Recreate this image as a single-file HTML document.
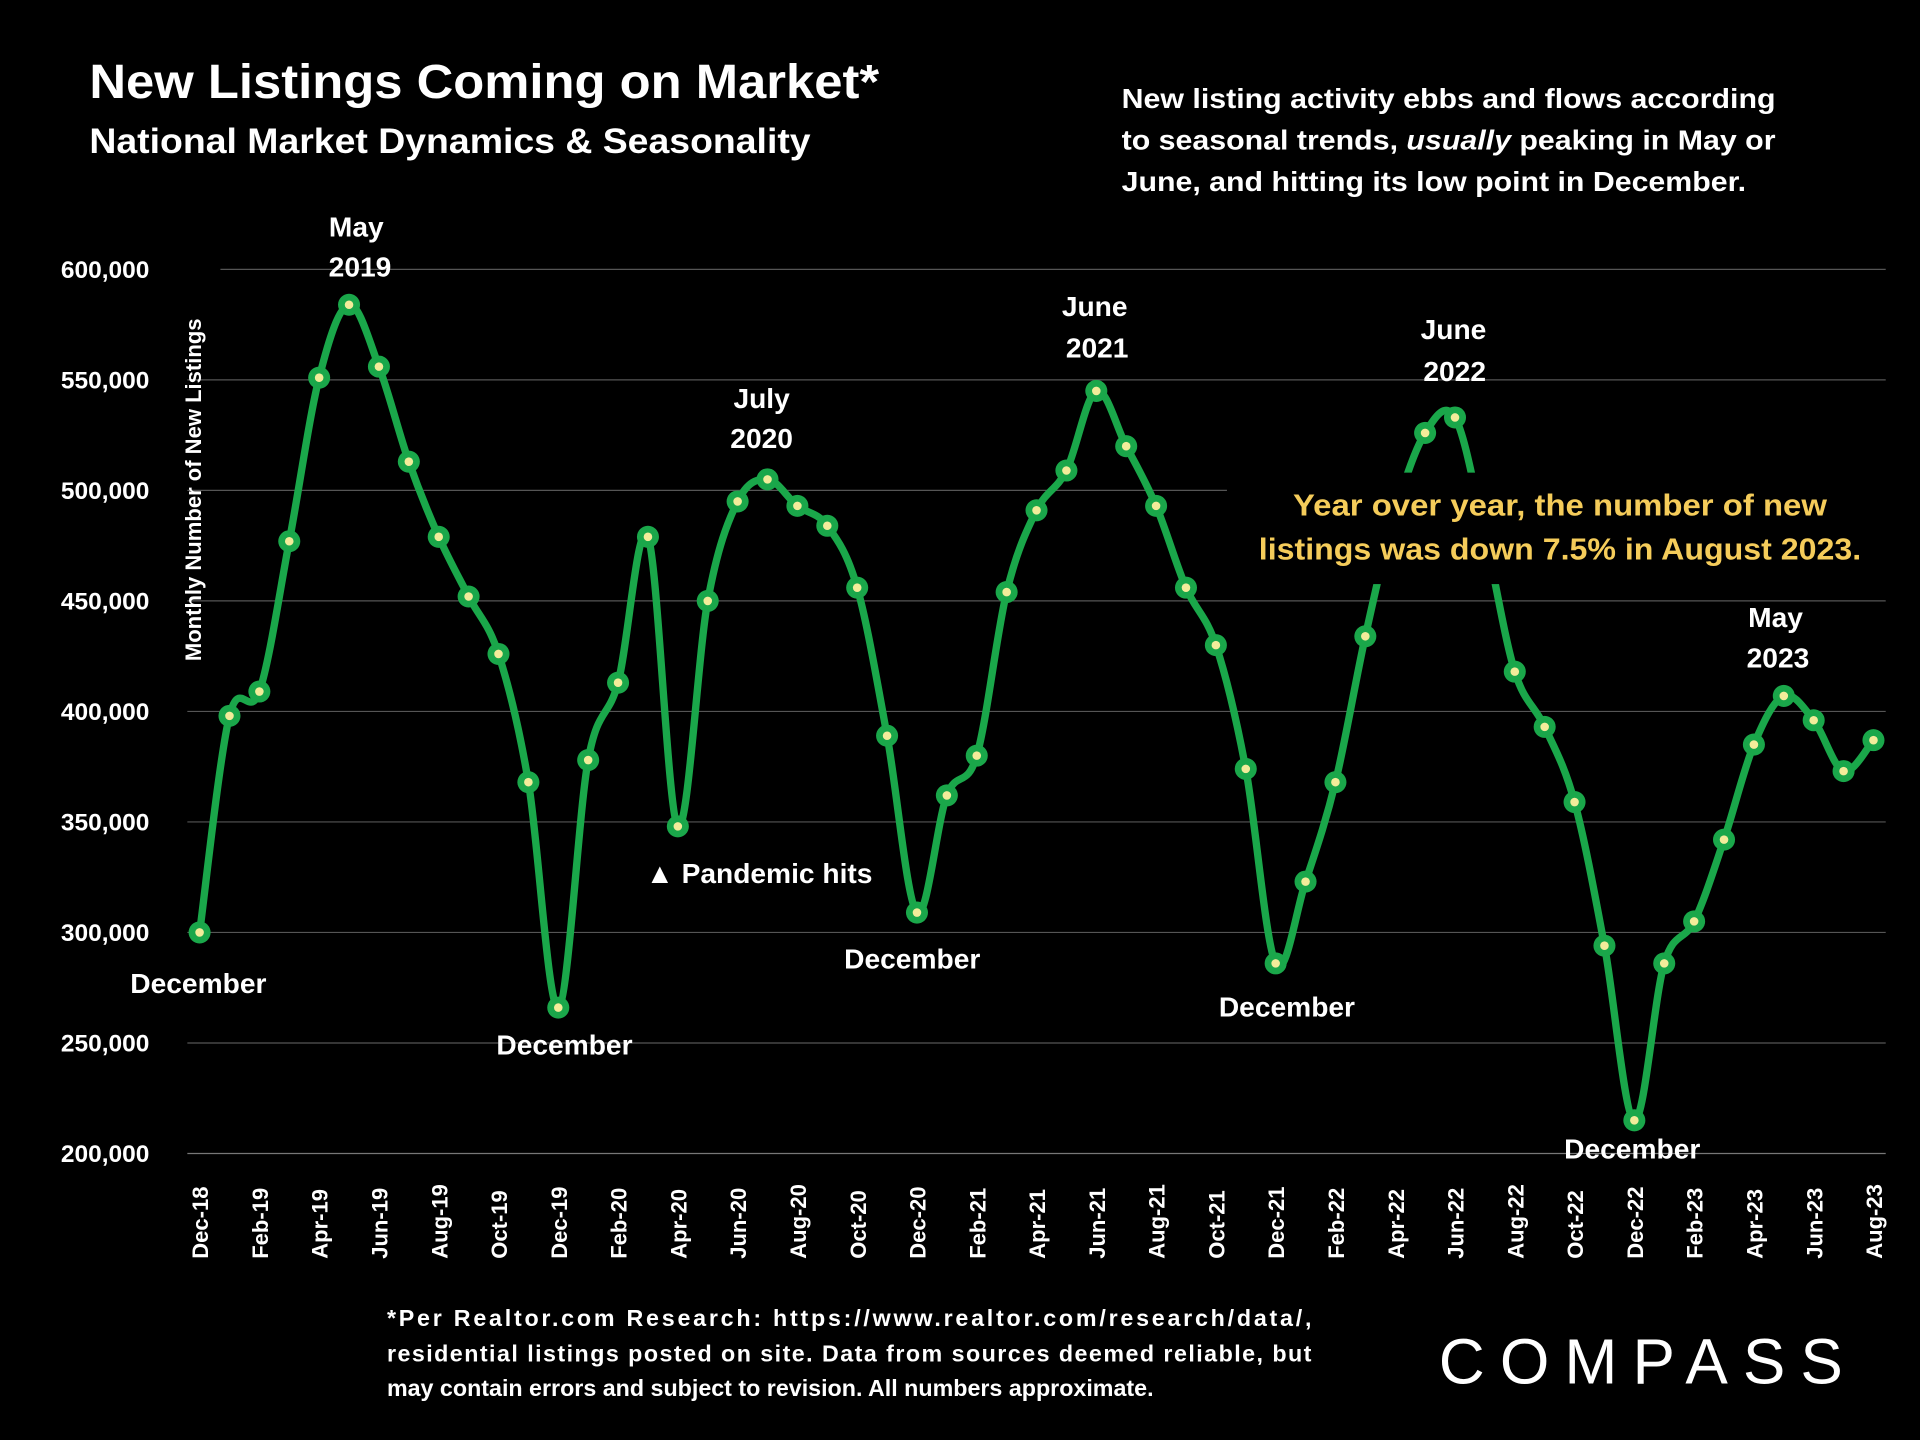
<!DOCTYPE html>
<html><head><meta charset="utf-8"><style>
html,body{margin:0;padding:0;background:#000;}
svg{display:block;font-family:"Liberation Sans",sans-serif;font-weight:bold;}
</style></head><body>
<svg id="chart" width="1920" height="1440" viewBox="0 0 1568 1176" xmlns="http://www.w3.org/2000/svg">
<rect width="1568" height="1176" fill="#000"/>
<text x="73" y="80" fill="#fff" font-size="39" textLength="645" lengthAdjust="spacingAndGlyphs">New Listings Coming on Market*</text>
<text x="73" y="125" fill="#fff" font-size="29" textLength="589" lengthAdjust="spacingAndGlyphs">National Market Dynamics &amp; Seasonality</text>
<g fill="#fff" font-size="23">
<text x="916" y="88" textLength="534" lengthAdjust="spacingAndGlyphs">New listing activity ebbs and flows according</text>
<text x="916" y="122" textLength="534" lengthAdjust="spacingAndGlyphs">to seasonal trends, <tspan font-style="italic">usually</tspan> peaking in May or</text>
<text x="916" y="156" textLength="510" lengthAdjust="spacingAndGlyphs">June, and hitting its low point in December.</text>
</g>
<g id="grid"></g>
<g id="yticks" fill="#fff" font-size="20" text-anchor="end"></g>
<g id="xticks" fill="#fff" font-size="18"></g>
<text transform="translate(164,400) rotate(-90)" fill="#fff" font-size="18" text-anchor="middle">Monthly Number of New Listings</text>
<path id="line" fill="none" stroke="#1aa74a" stroke-width="6"/>
<g id="pts"></g>
<rect x="1005" y="386" width="540" height="91" fill="#000"/>
<g fill="#f5cc5a" font-size="25" text-anchor="middle">
<text x="1274" y="421" textLength="436" lengthAdjust="spacingAndGlyphs">Year over year, the number of new</text>
<text x="1274" y="457" textLength="492" lengthAdjust="spacingAndGlyphs">listings was down 7.5% in August 2023.</text>
</g>
<g fill="#fff" font-size="23" text-anchor="middle">
<text x="291" y="193">May</text><text x="294" y="226">2019</text>
<text x="622" y="333">July</text><text x="622" y="366">2020</text>
<text x="894" y="258">June</text><text x="896" y="292">2021</text>
<text x="1187" y="277">June</text><text x="1188" y="311">2022</text>
<text x="1450" y="512">May</text><text x="1452" y="545">2023</text>
<text x="162" y="811">December</text>
<text x="461" y="861">December</text>
<text x="745" y="791">December</text>
<text x="1051" y="830">December</text>
<text x="1333" y="946">December</text>
<text x="620" y="721">▲ Pandemic hits</text>
</g>
<g fill="#fff" font-size="19">
<text x="316" y="1083" textLength="755" lengthAdjust="spacing">*Per Realtor.com Research: https://www.realtor.com/research/data/,</text>
<text x="316" y="1112" textLength="755" lengthAdjust="spacing">residential listings posted on site. Data from sources deemed reliable, but</text>
<text x="316" y="1140">may contain errors and subject to revision. All numbers approximate.</text>
</g>
<text x="1340" y="1130" fill="#fff" font-size="52" font-weight="normal" text-anchor="middle" textLength="330" lengthAdjust="spacing">COMPASS</text>
</svg>
<script>
const categories=["Dec-18","Jan-19","Feb-19","Mar-19","Apr-19","May-19","Jun-19","Jul-19","Aug-19","Sep-19","Oct-19","Nov-19","Dec-19","Jan-20","Feb-20","Mar-20","Apr-20","May-20","Jun-20","Jul-20","Aug-20","Sep-20","Oct-20","Nov-20","Dec-20","Jan-21","Feb-21","Mar-21","Apr-21","May-21","Jun-21","Jul-21","Aug-21","Sep-21","Oct-21","Nov-21","Dec-21","Jan-22","Feb-22","Mar-22","Apr-22","May-22","Jun-22","Jul-22","Aug-22","Sep-22","Oct-22","Nov-22","Dec-22","Jan-23","Feb-23","Mar-23","Apr-23","May-23","Jun-23","Jul-23","Aug-23"];
const values=[300000,398000,409000,477000,551000,584000,556000,513000,479000,452000,426000,368000,266000,378000,413000,479000,348000,450000,495000,505000,493000,484000,456000,389000,309000,362000,380000,454000,491000,509000,545000,520000,493000,456000,430000,374000,286000,323000,368000,434000,490000,526000,533000,480000,418000,393000,359000,294000,215000,286000,305000,342000,385000,407000,396000,373000,387000];
const yTicks=[200000,250000,300000,350000,400000,450000,500000,550000,600000];
const NS="http://www.w3.org/2000/svg";
const x0=163,x1=1530,yTop=220,yBot=942,vMin=200000,vMax=600000;
const xs=i=>x0+(x1-x0)*i/(categories.length-1);
const ys=v=>yBot-(v-vMin)/(vMax-vMin)*(yBot-yTop);
const grid=document.getElementById('grid'),yt=document.getElementById('yticks'),xt=document.getElementById('xticks');
yTicks.forEach(t=>{
 const l=document.createElementNS(NS,'line');
 
 
 const y=ys(t);
 l.setAttribute('x1',t===600000?180:153);l.setAttribute('x2',(t===500000)?1002:1540);
 l.setAttribute('y1',y);l.setAttribute('y2',y);l.setAttribute('stroke',t===200000?'#777':'#555');l.setAttribute('stroke-width',1);
 grid.appendChild(l);
 const tx=document.createElementNS(NS,'text');
 
 
 tx.setAttribute('x',122);tx.setAttribute('y',y+7);tx.textContent=t.toLocaleString('en-US');
 yt.appendChild(tx);
});
categories.forEach((c,i)=>{
 if(i%2)return;
 const tx=document.createElementNS(NS,'text');
 
 
 tx.setAttribute('transform',`translate(${xs(i)+7},1028) rotate(-90)`);
 tx.textContent=c;xt.appendChild(tx);
});
const P=values.map((v,i)=>[xs(i),ys(v)]);
let d=`M${P[0][0]},${P[0][1]}`;
for(let i=0;i<P.length-1;i++){
 const p0=P[Math.max(0,i-1)],p1=P[i],p2=P[i+1],p3=P[Math.min(P.length-1,i+2)];
 const c1=[p1[0]+(p2[0]-p0[0])/6,p1[1]+(p2[1]-p0[1])/6],c2=[p2[0]-(p3[0]-p1[0])/6,p2[1]-(p3[1]-p1[1])/6];
 d+=` C${c1[0]},${c1[1]} ${c2[0]},${c2[1]} ${p2[0]},${p2[1]}`;
}
document.getElementById('line').setAttribute('d',d);
const pts=document.getElementById('pts');
P.forEach(p=>{
 const g=document.createElementNS(NS,'g');
 
 
 g.innerHTML=`<circle cx="${p[0]}" cy="${p[1]}" r="9" fill="#1aa74a"/><circle cx="${p[0]}" cy="${p[1]}" r="3.5" fill="#f3ec9a"/>`;
 pts.appendChild(g);
});
</script>
</body></html>
